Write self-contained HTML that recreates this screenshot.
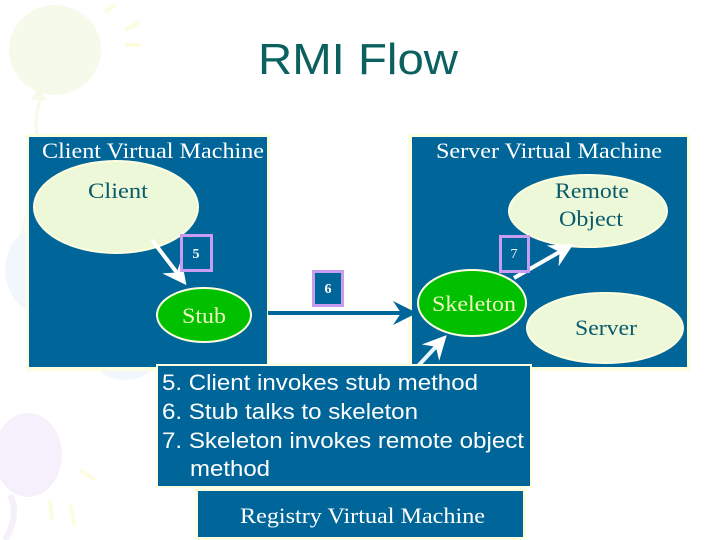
<!DOCTYPE html>
<html><head><meta charset="utf-8"><style>
html,body{margin:0;padding:0;background:#fff;}
svg{display:block}
text{font-family:"Liberation Serif",serif;}
.s{font-family:"Liberation Sans",sans-serif;}
</style></head><body>
<svg width="720" height="540" viewBox="0 0 720 540" xmlns="http://www.w3.org/2000/svg">
<defs>
<marker id="aw" markerWidth="6" markerHeight="6" refX="5" refY="3" orient="auto" markerUnits="strokeWidth"><path d="M0,0 L6,3 L0,6 L2,3 z" fill="#ffffff"/></marker>
<marker id="ab" markerWidth="6" markerHeight="6" refX="5" refY="3" orient="auto" markerUnits="strokeWidth"><path d="M0,0 L6,3 L0,6 L2,3 z" fill="#006699"/></marker>
</defs>
<!-- background balloons -->
<ellipse cx="55" cy="50" rx="46" ry="45" fill="#f5faea"/>
<path d="M38,90 L48,100 L30,100 z" fill="#f5faea"/>
<path d="M40,100 Q30,130 45,160 Q30,200 20,240" stroke="#f5faea" stroke-width="3" fill="none"/>
<ellipse cx="45" cy="270" rx="40" ry="45" fill="#f1f7fd"/>
<ellipse cx="125" cy="360" rx="30" ry="20" fill="#f1f7fd"/>
<ellipse cx="28" cy="455" rx="34" ry="42" fill="#f6f0fc"/>
<path d="M10,495 Q20,515 5,540" stroke="#f6f0fc" stroke-width="6" fill="none"/>
<path d="M105,12 L115,5 M125,30 L140,22 M125,45 L140,45" stroke="#fcfce0" stroke-width="4"/>
<path d="M80,470 L95,480 M50,500 L52,520 M70,505 L75,525" stroke="#fcfce0" stroke-width="4"/>
<!-- title -->
<text x="258" y="74" textLength="200" lengthAdjust="spacingAndGlyphs" class="s" font-size="44" fill="#0b6060">RMI Flow</text>
<!-- client VM -->
<rect x="26" y="134" width="244" height="237" fill="#fdfde0"/>
<rect x="29" y="137" width="238" height="230" fill="#006699"/>
<text x="42" y="158" textLength="222" lengthAdjust="spacingAndGlyphs" font-size="22" fill="#fff">Client Virtual Machine</text>
<ellipse cx="116" cy="207" rx="82" ry="46" fill="#ecf8d8" stroke="#fdfde0" stroke-width="2"/>
<text x="88" y="198" textLength="60" lengthAdjust="spacingAndGlyphs" font-size="22" fill="#0b5a6a">Client</text>
<line x1="152" y1="240" x2="184" y2="282" stroke="#fff" stroke-width="4" marker-end="url(#aw)"/>
<rect x="181.5" y="235.5" width="30" height="35" fill="#006699" stroke="#c89cf0" stroke-width="3"/>
<text x="196" y="258" text-anchor="middle" font-size="14" font-weight="bold" fill="#fff">5</text>
<ellipse cx="204" cy="315" rx="47" ry="27" fill="#00c000" stroke="#fdfde0" stroke-width="2"/>
<text x="182" y="323" textLength="44" lengthAdjust="spacingAndGlyphs" font-size="22" fill="#f0f8c0">Stub</text>
<!-- server VM -->
<rect x="408" y="134" width="282" height="237" fill="#fdfde0"/>
<rect x="412" y="137" width="275" height="230" fill="#006699"/>
<text x="436" y="158" textLength="226" lengthAdjust="spacingAndGlyphs" font-size="22" fill="#fff">Server Virtual Machine</text>
<ellipse cx="588" cy="211" rx="79" ry="36" fill="#ecf8d8" stroke="#fdfde0" stroke-width="2"/>
<text x="555" y="198" textLength="74" lengthAdjust="spacingAndGlyphs" font-size="22" fill="#0b5a6a">Remote</text>
<text x="559" y="226" textLength="64" lengthAdjust="spacingAndGlyphs" font-size="22" fill="#0b5a6a">Object</text>
<ellipse cx="605" cy="328" rx="78" ry="35" fill="#ecf8d8" stroke="#fdfde0" stroke-width="2"/>
<text x="575" y="335" textLength="62" lengthAdjust="spacingAndGlyphs" font-size="22" fill="#0b5a6a">Server</text>
<line x1="514" y1="278" x2="570" y2="246" stroke="#fff" stroke-width="4" marker-end="url(#aw)"/>
<rect x="500.5" y="236.5" width="28" height="35" fill="#006699" stroke="#c89cf0" stroke-width="3"/>
<text x="514" y="258" text-anchor="middle" font-size="14" fill="#fff">7</text>
<ellipse cx="472" cy="303" rx="54" ry="33" fill="#00c000" stroke="#fdfde0" stroke-width="2"/>
<text x="432" y="311" textLength="84" lengthAdjust="spacingAndGlyphs" font-size="22" fill="#f0f8c0">Skeleton</text>
<!-- connector 6 -->
<line x1="268" y1="313" x2="413" y2="313" stroke="#006699" stroke-width="4" marker-end="url(#ab)"/>
<rect x="313.5" y="271.5" width="29" height="34" fill="#006699" stroke="#c89cf0" stroke-width="3"/>
<text x="328" y="293" text-anchor="middle" font-size="14" font-weight="bold" fill="#fff">6</text>
<!-- registry arrow -->
<line x1="418" y1="366" x2="444" y2="338" stroke="#eaf6ff" stroke-width="4" marker-end="url(#aw)"/>
<!-- text box -->
<rect x="156" y="364" width="376" height="124" fill="#fdfde0"/>
<rect x="158" y="366" width="372" height="120" fill="#006699"/>
<g font-size="22" fill="#fff">
<text x="162" y="390" textLength="316" lengthAdjust="spacingAndGlyphs" class="s">5. Client invokes stub method</text>
<text x="162" y="419" textLength="256" lengthAdjust="spacingAndGlyphs" class="s">6. Stub talks to skeleton</text>
<text x="162" y="448" textLength="362" lengthAdjust="spacingAndGlyphs" class="s">7. Skeleton invokes remote object</text>
<text x="190" y="476" textLength="80" lengthAdjust="spacingAndGlyphs" class="s">method</text>
</g>
<!-- registry -->
<rect x="195" y="488" width="331" height="52" fill="#fdfde0"/>
<rect x="198" y="491" width="325" height="46" fill="#006699"/>
<text x="240" y="523" textLength="245" lengthAdjust="spacingAndGlyphs" font-size="22" fill="#fff">Registry Virtual Machine</text>
</svg>
</body></html>
